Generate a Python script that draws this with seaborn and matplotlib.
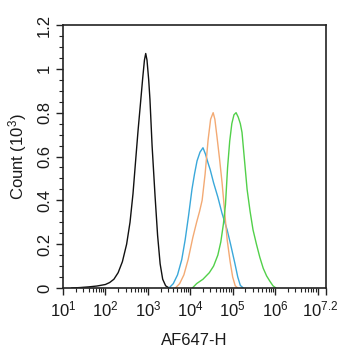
import matplotlib
matplotlib.use("Agg")
import matplotlib.pyplot as plt
import numpy as np
import pandas as pd
import seaborn as sns

# Histogram traces: log10(AF647-H) bin position and count (x10^3)
black_x = [1.2, 1.4, 1.6, 1.8, 2.0, 2.1, 2.2, 2.3, 2.4, 2.5, 2.58, 2.65, 2.72, 2.77,
           2.83, 2.88, 2.92, 2.95, 2.98, 3.02, 3.05, 3.1, 3.17, 3.23, 3.29, 3.35, 3.42, 3.5]
black_y = [0.0, 0.002, 0.005, 0.009, 0.016, 0.025, 0.04, 0.07, 0.12, 0.2, 0.3, 0.43, 0.6, 0.72,
           0.85, 0.96, 1.04, 1.07, 1.04, 0.95, 0.86, 0.65, 0.42, 0.24, 0.11, 0.04, 0.01, 0.0]

blue_x = [3.5, 3.6, 3.7, 3.8, 3.88, 3.96, 4.04, 4.1, 4.16, 4.23, 4.3, 4.36, 4.42, 4.47,
          4.55, 4.65, 4.75, 4.87, 4.95, 5.05, 5.12, 5.18, 5.25]
blue_y = [0.0, 0.02, 0.06, 0.13, 0.22, 0.33, 0.45, 0.52, 0.58, 0.62, 0.64, 0.61, 0.57, 0.54,
          0.48, 0.415, 0.34, 0.265, 0.2, 0.114, 0.05, 0.012, 0.0]

orange_x = [3.65, 3.75, 3.85, 3.95, 4.06, 4.15, 4.22, 4.28, 4.35, 4.42, 4.48, 4.54, 4.58,
            4.63, 4.69, 4.75, 4.81, 4.87, 4.94, 5.0, 5.06, 5.12]
orange_y = [0.0, 0.02, 0.06, 0.13, 0.23, 0.3, 0.35, 0.40, 0.52, 0.675, 0.77, 0.80, 0.77,
            0.69, 0.59, 0.48, 0.35, 0.22, 0.12, 0.05, 0.01, 0.0]

green_x = [4.05, 4.15, 4.3, 4.45, 4.55, 4.65, 4.72, 4.78, 4.83, 4.88, 4.93, 4.98, 5.03, 5.08,
           5.13, 5.18, 5.22, 5.28, 5.34, 5.41, 5.48, 5.56, 5.64, 5.72, 5.8, 5.88, 5.95, 6.02]
green_y = [0.0, 0.02, 0.04, 0.07, 0.1, 0.15, 0.21, 0.29, 0.38, 0.55, 0.67, 0.75, 0.79, 0.80,
           0.78, 0.75, 0.71, 0.58, 0.45, 0.35, 0.265, 0.2, 0.14, 0.09, 0.055, 0.03, 0.01, 0.0]

x_major = [1, 2, 3, 4, 5, 6, 7, 7.2]
x_labels = ["$10^{1}$", "$10^{2}$", "$10^{3}$", "$10^{4}$", "$10^{5}$", "$10^{6}$", "", ""]
x_end_label = "$10^{7.2}$"
y_major = [0, 0.2, 0.4, 0.6, 0.8, 1.0, 1.2]
y_labels = ["0", "0.2", "0.4", "0.6", "0.8", "1", "1.2"]

traces = [("black", black_x, black_y), ("blue", blue_x, blue_y),
          ("orange", orange_x, orange_y), ("green", green_x, green_y)]
df = pd.concat([pd.DataFrame({"x": xs, "y": ys, "sample": name}) for name, xs, ys in traces],
               ignore_index=True)
palette = {"black": "#111111", "blue": "#3aa8da", "orange": "#f3aa74", "green": "#52d04a"}

sns.set_theme(style="ticks")
plt.rcParams["font.family"] = ["Liberation Sans", "DejaVu Sans"]
plt.rcParams["mathtext.fontset"] = "custom"
plt.rcParams["mathtext.rm"] = "Liberation Sans"
plt.rcParams["mathtext.it"] = "Liberation Sans"

fig = plt.figure(figsize=(3.42, 3.5), dpi=100)
ax = fig.add_axes([63 / 342, 62 / 350, 263 / 342, 263 / 350])

sns.lineplot(data=df, x="x", y="y", hue="sample", palette=palette, ax=ax,
             linewidth=1.0, legend=False, sort=False, estimator=None)

ax.set_xlim(1, 7.2)
ax.set_ylim(0, 1.2)

ax.set_xticks(x_major)
ax.set_xticklabels(x_labels, fontsize=12, color="#1a1a1a")
# end-of-axis label, pulled slightly inward so it stays inside the figure
ax.annotate(x_end_label, xy=(x_major[-1], 0), xycoords=("data", "axes fraction"),
            xytext=(-4, -8), textcoords="offset points", ha="center", va="top",
            fontsize=12, color="#1a1a1a", annotation_clip=False)
minor = [d + np.log10(k) for d in range(1, 8) for k in range(2, 10) if d + np.log10(k) < 7.2]
ax.set_xticks(minor, minor=True)

ax.set_yticks(y_major)
ax.set_yticklabels(y_labels, fontsize=12, rotation=90, va="center", color="#1a1a1a")
ax.set_yticks(np.arange(0, 1.2001, 0.05), minor=True)

ax.tick_params(which="major", length=5, width=1, color="#222222", pad=3)
ax.tick_params(which="minor", length=3, width=0.8, color="#222222")
for s in ax.spines.values():
    s.set_linewidth(1.2)
    s.set_color("#222222")

ax.set_xlabel("AF647-H", fontsize=12, labelpad=10, color="#1a1a1a")
ax.set_ylabel("Count (10$^{3}$)", fontsize=12, labelpad=6, color="#1a1a1a")

fig.savefig("out.png", dpi=100)
